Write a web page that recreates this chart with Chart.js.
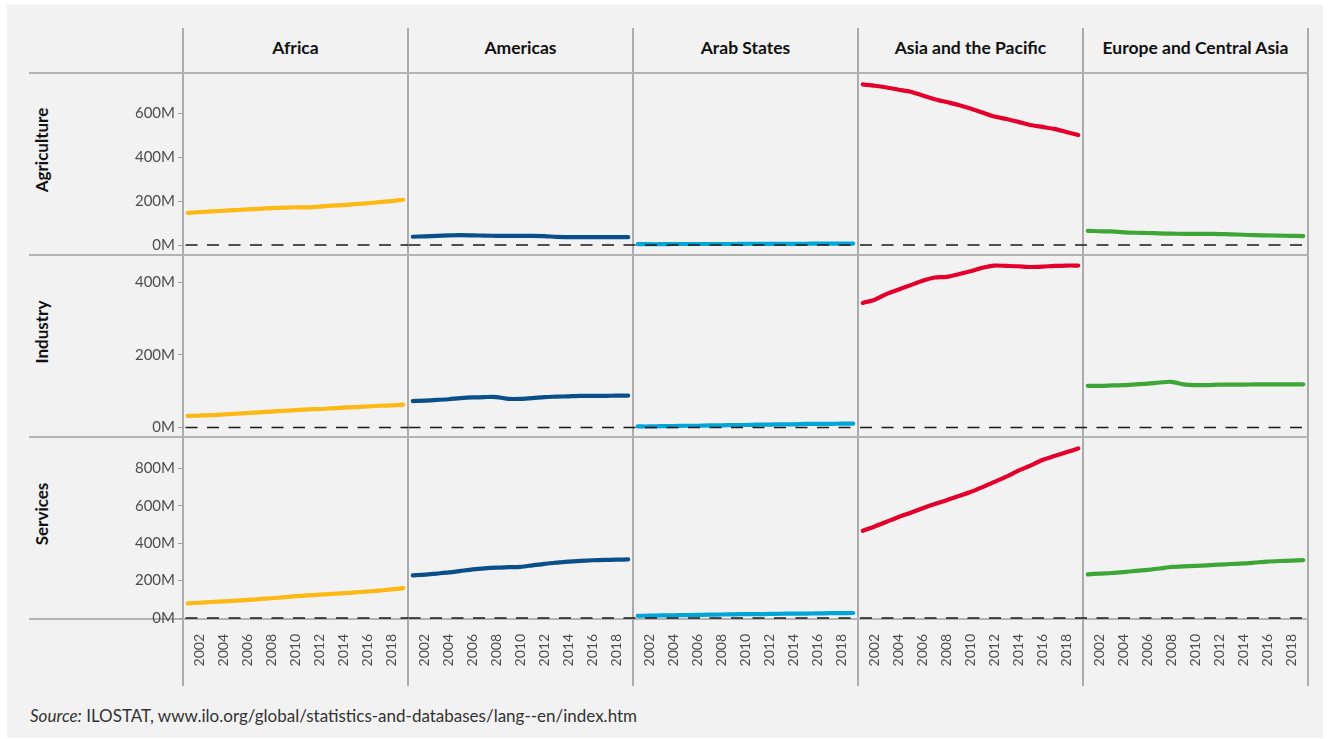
<!DOCTYPE html>
<html><head><meta charset="utf-8">
<script src="https://cdn.jsdelivr.net/npm/chart.js@4.4.1/dist/chart.umd.min.js"></script>
<style>
html,body{margin:0;padding:0;background:#fff;width:1330px;height:739px;overflow:hidden;font-family:Lato,"Noto Sans",sans-serif;}
#frame{position:absolute;left:7px;top:5px;width:1316px;height:733px;background:#f2f2f2;}
.vl{position:absolute;width:2px;background:#ababab;z-index:1;}
.hl{position:absolute;height:2px;background:#b3b3b3;z-index:1;}
.colh{position:absolute;top:38px;height:20px;line-height:20px;width:225px;text-align:center;font-weight:bold;font-size:17.5px;color:#111;z-index:3;}
.rowh{position:absolute;width:182px;height:20px;line-height:20px;text-align:center;font-weight:bold;font-size:17px;color:#111;transform:rotate(-90deg);z-index:3;}
canvas{position:absolute;z-index:2;}
#src{position:absolute;left:30px;top:705px;font-size:17px;color:#333;z-index:3;}
</style></head>
<body>
<div id="frame"></div>
<div id="src"><i>Source:</i> ILOSTAT, www.ilo.org/global/statistics-and-databases/lang--en/index.htm</div>
<script>
// ---- data ----
const years = [2001,2002,2003,2004,2005,2006,2007,2008,2009,2010,2011,2012,2013,2014,2015,2016,2017,2018,2019];
const regions = ['Africa','Americas','Arab States','Asia and the Pacific','Europe and Central Asia'];
const sectors = ['Agriculture','Industry','Services'];
const regionColors = ['#fcb813','#0b4f8a','#00a6d9','#e4002b','#3da637'];
const xTickYears = [2002,2004,2006,2008,2010,2012,2014,2016,2018];
const yTickValues = [[0,200,400,600],[0,200,400],[0,200,400,600,800]];

const africaAgriculture   = [146,150,153,156,159,162,165,168,170,172,171,175,179,182,186,190,195,200,206];
const americasAgriculture = [38,40,42,44,45,44,43,42,42,42,42,41,37,36,36,36,36,36,36];
const arabAgriculture     = [4,4,4,5,5,5,5,5,5,6,6,6,6,6,6,7,7,7,7];
const asiaAgriculture     = [730,724,716,706,697,680,663,650,637,621,602,584,573,560,546,537,528,514,500];
const europeAgriculture   = [65,63,62,58,56,55,53,52,51,51,51,50,49,47,45,44,43,42,41];

const africaIndustry   = [32,33,34,36,38,40,42,44,46,48,50,51,53,55,56,58,60,61,63];
const americasIndustry = [73,74,76,78,81,83,84,84,79,79,81,84,85,86,87,87,87,88,88];
const arabIndustry     = [3,3,4,4,5,5,6,6,7,7,8,8,9,9,10,10,10,11,11];
const asiaIndustry     = [343,352,368,380,392,404,413,415,422,430,440,446,445,444,442,443,445,446,446];
const europeIndustry   = [115,115,116,117,119,121,124,126,119,117,117,118,118,118,119,119,119,119,119];

const africaServices   = [79,82,86,89,93,97,101,106,111,117,121,125,129,133,137,142,147,153,160];
const americasServices = [228,232,238,244,252,260,266,270,272,274,282,290,296,302,306,309,311,312,314];
const arabServices     = [12,13,14,15,16,17,18,19,20,21,21,22,23,24,24,25,26,26,27];
const asiaServices     = [467,490,515,540,563,587,610,630,652,674,700,728,756,788,815,845,866,886,907];
const europeServices   = [234,238,241,246,252,258,265,274,276,279,282,286,289,292,297,302,305,307,310];

const yMin = [-45,-26,-5];
const yMax = [782,475,968];

const series = [
  [africaAgriculture, americasAgriculture, arabAgriculture, asiaAgriculture, europeAgriculture],
  [africaIndustry, americasIndustry, arabIndustry, asiaIndustry, europeIndustry],
  [africaServices, americasServices, arabServices, asiaServices, europeServices]
];

// ---- layout ----
const colX0 = 183, colW = 225, rowY0 = 73, rowH = 182, yAxisW = 83, xAxisH = 68;

function addDiv(cls, style, text){
  const d = document.createElement('div'); d.className = cls;
  Object.assign(d.style, style); if (text) d.textContent = text;
  document.body.appendChild(d); return d;
}
for (let i = 0; i <= 5; i++) addDiv('vl', {left:(colX0 + colW*i - 1)+'px', top:'28px', height:'658px'});
for (let j = 0; j <= 3; j++) addDiv('hl', {left:'29px', top:(rowY0 + rowH*j - 1)+'px', width:'1280px'});
regions.forEach((r,i)=> addDiv('colh', {left:(colX0 + colW*i)+'px'}, r));
sectors.forEach((s,j)=> addDiv('rowh', {left:(42-91)+'px', top:(rowY0 + rowH*j + 91 - 14 - 10)+'px'}, s));

const zeroLine = {
  id:'zeroLine',
  afterDatasetsDraw(chart, args, opts){
    const y = chart.scales.y.getPixelForValue(0);
    const a = chart.chartArea, ctx = chart.ctx;
    const x0 = a.left - (opts.ext || 0);
    ctx.save();
    ctx.strokeStyle = '#1a1a1a'; ctx.lineWidth = 1.5;
    ctx.setLineDash([12,9.5]);
    ctx.lineDashOffset = (opts.pageX || 0) % 21.5;
    ctx.beginPath(); ctx.moveTo(x0, y); ctx.lineTo(a.right, y); ctx.stroke();
    ctx.restore();
  }
};

for (let r = 0; r < 3; r++) {
  for (let c = 0; c < 5; c++) {
    const cv = document.createElement('canvas');
    const showY = c === 0, showX = r === 2;
    const left = showY ? colX0 - yAxisW : colX0 + colW*c;
    const width = showY ? colW + yAxisW : colW;
    const top = rowY0 + rowH*r;
    const height = showX ? rowH + xAxisH : rowH;
    cv.width = width; cv.height = height;
    cv.style.left = left+'px'; cv.style.top = top+'px';
    cv.style.width = width+'px'; cv.style.height = height+'px';
    document.body.appendChild(cv);
    const vals = series[r][c];
    new Chart(cv, {
      type:'line',
      data:{datasets:[{
        data: years.map((yr,i)=>({x:yr, y:vals[i]})),
        borderColor: regionColors[c], borderWidth: 4.2,
        pointRadius: 0, tension: 0.25, fill:false,
        borderCapStyle:'round', borderJoinStyle:'round'
      }]},
      options:{
        responsive:false, animation:false, devicePixelRatio:1, events:[],
        layout:{padding:0},
        plugins:{legend:{display:false}, tooltip:{enabled:false},
                 zeroLine:{ext: showY ? 5 : 0, pageX: left}},
        scales:{
          x:{
            type:'linear', min:2000.6, max:2019.4, display: showX,
            afterBuildTicks: s => { s.ticks = xTickYears.map(v=>({value:v})); },
            afterFit: s => { s.height = showX ? xAxisH : 0; s.paddingLeft = 0; s.paddingRight = 0; },
            ticks:{autoSkip:false, minRotation:90, maxRotation:90, padding:7,
                   font:{family:'Lato', size:14}, color:'#4d4d4d',
                   callback: v => String(v)},
            grid:{display:false}, border:{display:false}
          },
          y:{
            min: yMin[r], max: yMax[r], display: showY,
            afterBuildTicks: s => { s.ticks = yTickValues[r].map(v=>({value:v})); },
            afterFit: s => { s.width = showY ? yAxisW : 0; s.paddingTop = 0; s.paddingBottom = 0; },
            ticks:{padding:3, font:{family:'Lato', size:15}, color:'#4d4d4d',
                   callback: v => v + 'M'},
            grid:{drawOnChartArea:false, drawTicks:true, tickLength:5, color:'#a0a0a0', lineWidth:1},
            border:{display:false}
          }
        }
      },
      plugins:[zeroLine]
    });
  }
}
</script>
</body></html>
